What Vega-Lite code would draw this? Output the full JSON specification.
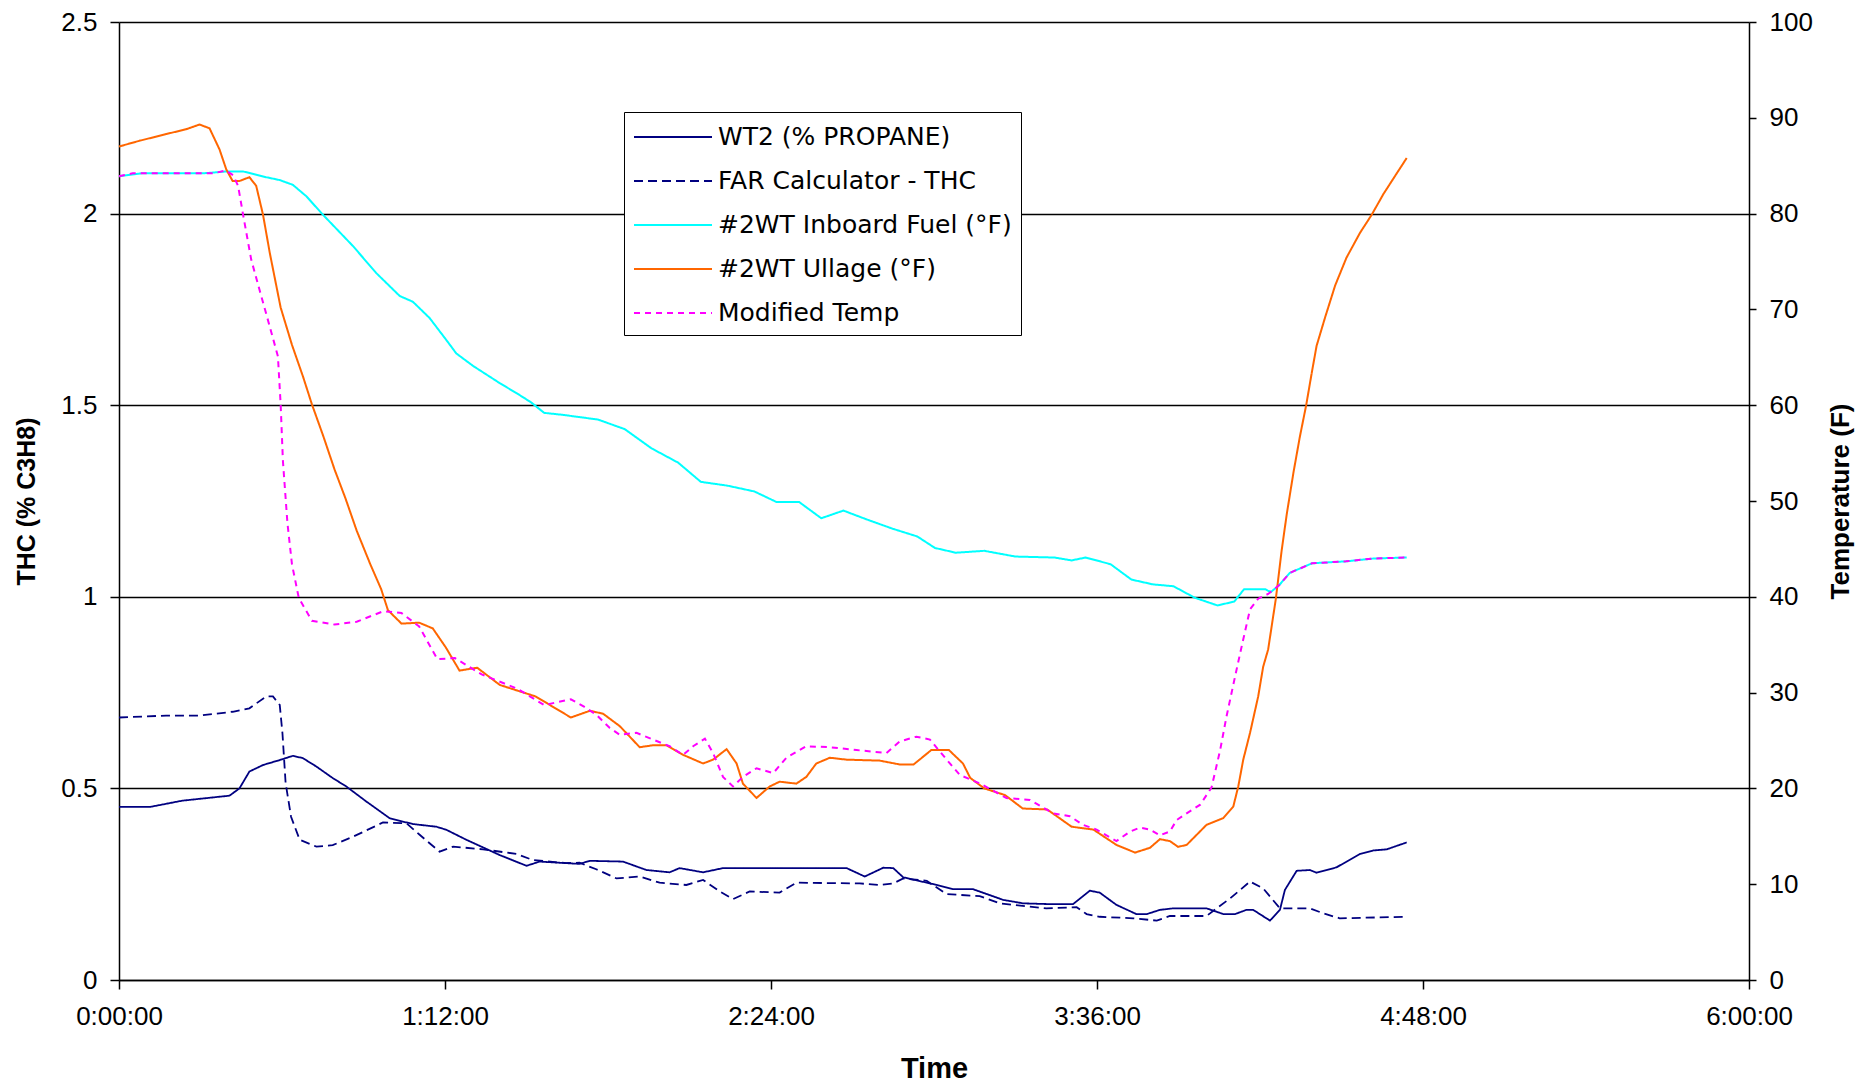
{
"$schema": "https://vega.github.io/schema/vega-lite/v6.json",
"width": 1630, "height": 958,
"autosize": {"type": "none"},
"padding": {"left": 119, "top": 22, "right": 115, "bottom": 103},
"background": "white",
"config": {"view": {"stroke": null}, "font": "Liberation Sans"},
"datasets": {
"thc": [
{"t":0,"s":"WT2 (% PROPANE)","v":0.452},{"t":7,"s":"WT2 (% PROPANE)","v":0.452},{"t":14,"s":"WT2 (% PROPANE)","v":0.468},{"t":24.4,"s":"WT2 (% PROPANE)","v":0.481},{"t":26.6,"s":"WT2 (% PROPANE)","v":0.5},{"t":28.8,"s":"WT2 (% PROPANE)","v":0.544},{"t":31.8,"s":"WT2 (% PROPANE)","v":0.561},{"t":35.5,"s":"WT2 (% PROPANE)","v":0.574},{"t":38.4,"s":"WT2 (% PROPANE)","v":0.585},{"t":40.6,"s":"WT2 (% PROPANE)","v":0.579},{"t":43.6,"s":"WT2 (% PROPANE)","v":0.557},{"t":47.2,"s":"WT2 (% PROPANE)","v":0.527},{"t":50.2,"s":"WT2 (% PROPANE)","v":0.505},{"t":54.6,"s":"WT2 (% PROPANE)","v":0.466},{"t":59.8,"s":"WT2 (% PROPANE)","v":0.422},{"t":64.9,"s":"WT2 (% PROPANE)","v":0.407},{"t":70.1,"s":"WT2 (% PROPANE)","v":0.4},{"t":72.3,"s":"WT2 (% PROPANE)","v":0.392},{"t":76.7,"s":"WT2 (% PROPANE)","v":0.366},{"t":84.1,"s":"WT2 (% PROPANE)","v":0.326},{"t":90,"s":"WT2 (% PROPANE)","v":0.298},{"t":92.9,"s":"WT2 (% PROPANE)","v":0.309},{"t":101.7,"s":"WT2 (% PROPANE)","v":0.303},{"t":104,"s":"WT2 (% PROPANE)","v":0.311},{"t":111.3,"s":"WT2 (% PROPANE)","v":0.309},{"t":116.5,"s":"WT2 (% PROPANE)","v":0.287},{"t":121.6,"s":"WT2 (% PROPANE)","v":0.281},{"t":123.8,"s":"WT2 (% PROPANE)","v":0.292},{"t":129,"s":"WT2 (% PROPANE)","v":0.281},{"t":133.4,"s":"WT2 (% PROPANE)","v":0.292},{"t":160.7,"s":"WT2 (% PROPANE)","v":0.292},{"t":164.7,"s":"WT2 (% PROPANE)","v":0.27},{"t":168.8,"s":"WT2 (% PROPANE)","v":0.293},{"t":171,"s":"WT2 (% PROPANE)","v":0.292},{"t":173.2,"s":"WT2 (% PROPANE)","v":0.268},{"t":180.6,"s":"WT2 (% PROPANE)","v":0.248},{"t":184.2,"s":"WT2 (% PROPANE)","v":0.237},{"t":188.6,"s":"WT2 (% PROPANE)","v":0.237},{"t":195.3,"s":"WT2 (% PROPANE)","v":0.209},{"t":199.7,"s":"WT2 (% PROPANE)","v":0.2},{"t":205.6,"s":"WT2 (% PROPANE)","v":0.198},{"t":210.7,"s":"WT2 (% PROPANE)","v":0.198},{"t":214.4,"s":"WT2 (% PROPANE)","v":0.233},{"t":216.6,"s":"WT2 (% PROPANE)","v":0.228},{"t":220.3,"s":"WT2 (% PROPANE)","v":0.196},{"t":224.7,"s":"WT2 (% PROPANE)","v":0.172},{"t":227,"s":"WT2 (% PROPANE)","v":0.172},{"t":229.9,"s":"WT2 (% PROPANE)","v":0.183},{"t":232.8,"s":"WT2 (% PROPANE)","v":0.187},{"t":240.2,"s":"WT2 (% PROPANE)","v":0.187},{"t":243.9,"s":"WT2 (% PROPANE)","v":0.172},{"t":246.5,"s":"WT2 (% PROPANE)","v":0.172},{"t":249,"s":"WT2 (% PROPANE)","v":0.183},{"t":250.5,"s":"WT2 (% PROPANE)","v":0.183},{"t":254.2,"s":"WT2 (% PROPANE)","v":0.155},{"t":256.4,"s":"WT2 (% PROPANE)","v":0.183},{"t":257.5,"s":"WT2 (% PROPANE)","v":0.235},{"t":260.1,"s":"WT2 (% PROPANE)","v":0.285},{"t":263,"s":"WT2 (% PROPANE)","v":0.287},{"t":264.5,"s":"WT2 (% PROPANE)","v":0.28},{"t":268.9,"s":"WT2 (% PROPANE)","v":0.294},{"t":274.1,"s":"WT2 (% PROPANE)","v":0.329},{"t":277,"s":"WT2 (% PROPANE)","v":0.338},{"t":280,"s":"WT2 (% PROPANE)","v":0.341},{"t":284.4,"s":"WT2 (% PROPANE)","v":0.359},
{"t":0,"s":"FAR Calculator - THC","v":0.685},{"t":10.4,"s":"FAR Calculator - THC","v":0.69},{"t":17.8,"s":"FAR Calculator - THC","v":0.69},{"t":25.1,"s":"FAR Calculator - THC","v":0.7},{"t":28.8,"s":"FAR Calculator - THC","v":0.709},{"t":32.5,"s":"FAR Calculator - THC","v":0.74},{"t":34,"s":"FAR Calculator - THC","v":0.74},{"t":35.5,"s":"FAR Calculator - THC","v":0.718},{"t":36.1,"s":"FAR Calculator - THC","v":0.644},{"t":36.8,"s":"FAR Calculator - THC","v":0.514},{"t":38,"s":"FAR Calculator - THC","v":0.426},{"t":39.9,"s":"FAR Calculator - THC","v":0.366},{"t":43.6,"s":"FAR Calculator - THC","v":0.348},{"t":47.2,"s":"FAR Calculator - THC","v":0.352},{"t":51.7,"s":"FAR Calculator - THC","v":0.374},{"t":58.3,"s":"FAR Calculator - THC","v":0.411},{"t":63.5,"s":"FAR Calculator - THC","v":0.409},{"t":66.4,"s":"FAR Calculator - THC","v":0.379},{"t":70.8,"s":"FAR Calculator - THC","v":0.335},{"t":73.8,"s":"FAR Calculator - THC","v":0.348},{"t":80.4,"s":"FAR Calculator - THC","v":0.341},{"t":87.8,"s":"FAR Calculator - THC","v":0.329},{"t":91.4,"s":"FAR Calculator - THC","v":0.313},{"t":98.8,"s":"FAR Calculator - THC","v":0.305},{"t":101.7,"s":"FAR Calculator - THC","v":0.306},{"t":105.4,"s":"FAR Calculator - THC","v":0.289},{"t":109.9,"s":"FAR Calculator - THC","v":0.265},{"t":115,"s":"FAR Calculator - THC","v":0.27},{"t":119.4,"s":"FAR Calculator - THC","v":0.254},{"t":125.3,"s":"FAR Calculator - THC","v":0.248},{"t":129,"s":"FAR Calculator - THC","v":0.261},{"t":132.7,"s":"FAR Calculator - THC","v":0.231},{"t":135.6,"s":"FAR Calculator - THC","v":0.211},{"t":139.3,"s":"FAR Calculator - THC","v":0.231},{"t":145.9,"s":"FAR Calculator - THC","v":0.228},{"t":149.6,"s":"FAR Calculator - THC","v":0.254},{"t":163.6,"s":"FAR Calculator - THC","v":0.252},{"t":168,"s":"FAR Calculator - THC","v":0.248},{"t":171,"s":"FAR Calculator - THC","v":0.252},{"t":173.2,"s":"FAR Calculator - THC","v":0.265},{"t":178.4,"s":"FAR Calculator - THC","v":0.259},{"t":182.8,"s":"FAR Calculator - THC","v":0.224},{"t":190.1,"s":"FAR Calculator - THC","v":0.219},{"t":194.5,"s":"FAR Calculator - THC","v":0.2},{"t":204.8,"s":"FAR Calculator - THC","v":0.187},{"t":211.5,"s":"FAR Calculator - THC","v":0.19},{"t":213.7,"s":"FAR Calculator - THC","v":0.172},{"t":216.6,"s":"FAR Calculator - THC","v":0.165},{"t":224,"s":"FAR Calculator - THC","v":0.161},{"t":229.2,"s":"FAR Calculator - THC","v":0.155},{"t":232.1,"s":"FAR Calculator - THC","v":0.167},{"t":240.2,"s":"FAR Calculator - THC","v":0.167},{"t":242.4,"s":"FAR Calculator - THC","v":0.187},{"t":245.4,"s":"FAR Calculator - THC","v":0.213},{"t":249.8,"s":"FAR Calculator - THC","v":0.257},{"t":252.7,"s":"FAR Calculator - THC","v":0.239},{"t":256.4,"s":"FAR Calculator - THC","v":0.187},{"t":263,"s":"FAR Calculator - THC","v":0.187},{"t":266,"s":"FAR Calculator - THC","v":0.174},{"t":269.6,"s":"FAR Calculator - THC","v":0.161},{"t":284.4,"s":"FAR Calculator - THC","v":0.165}
],
"temp": [
{"t":0,"s":"#2WT Inboard Fuel (°F)","v":83.9},{"t":5,"s":"#2WT Inboard Fuel (°F)","v":84.2},{"t":18.5,"s":"#2WT Inboard Fuel (°F)","v":84.2},{"t":23.7,"s":"#2WT Inboard Fuel (°F)","v":84.4},{"t":27.4,"s":"#2WT Inboard Fuel (°F)","v":84.4},{"t":32.5,"s":"#2WT Inboard Fuel (°F)","v":83.8},{"t":35.5,"s":"#2WT Inboard Fuel (°F)","v":83.5},{"t":38.4,"s":"#2WT Inboard Fuel (°F)","v":83},{"t":41.4,"s":"#2WT Inboard Fuel (°F)","v":81.8},{"t":45,"s":"#2WT Inboard Fuel (°F)","v":79.9},{"t":51.7,"s":"#2WT Inboard Fuel (°F)","v":76.6},{"t":56.8,"s":"#2WT Inboard Fuel (°F)","v":73.8},{"t":62,"s":"#2WT Inboard Fuel (°F)","v":71.4},{"t":64.9,"s":"#2WT Inboard Fuel (°F)","v":70.8},{"t":68.6,"s":"#2WT Inboard Fuel (°F)","v":69.1},{"t":72.3,"s":"#2WT Inboard Fuel (°F)","v":66.8},{"t":74.5,"s":"#2WT Inboard Fuel (°F)","v":65.4},{"t":78.2,"s":"#2WT Inboard Fuel (°F)","v":64.1},{"t":84.1,"s":"#2WT Inboard Fuel (°F)","v":62.3},{"t":88,"s":"#2WT Inboard Fuel (°F)","v":61.2},{"t":91,"s":"#2WT Inboard Fuel (°F)","v":60.3},{"t":93.9,"s":"#2WT Inboard Fuel (°F)","v":59.2},{"t":97.9,"s":"#2WT Inboard Fuel (°F)","v":59},{"t":105.8,"s":"#2WT Inboard Fuel (°F)","v":58.5},{"t":111.7,"s":"#2WT Inboard Fuel (°F)","v":57.5},{"t":117.6,"s":"#2WT Inboard Fuel (°F)","v":55.5},{"t":123.5,"s":"#2WT Inboard Fuel (°F)","v":54},{"t":128.5,"s":"#2WT Inboard Fuel (°F)","v":52},{"t":134.4,"s":"#2WT Inboard Fuel (°F)","v":51.6},{"t":140.3,"s":"#2WT Inboard Fuel (°F)","v":51},{"t":145.2,"s":"#2WT Inboard Fuel (°F)","v":49.9},{"t":150.2,"s":"#2WT Inboard Fuel (°F)","v":49.9},{"t":155.1,"s":"#2WT Inboard Fuel (°F)","v":48.2},{"t":160,"s":"#2WT Inboard Fuel (°F)","v":49},{"t":165,"s":"#2WT Inboard Fuel (°F)","v":48.1},{"t":170.9,"s":"#2WT Inboard Fuel (°F)","v":47.1},{"t":176.3,"s":"#2WT Inboard Fuel (°F)","v":46.3},{"t":180.2,"s":"#2WT Inboard Fuel (°F)","v":45.1},{"t":184.8,"s":"#2WT Inboard Fuel (°F)","v":44.6},{"t":191.1,"s":"#2WT Inboard Fuel (°F)","v":44.8},{"t":198,"s":"#2WT Inboard Fuel (°F)","v":44.2},{"t":206.6,"s":"#2WT Inboard Fuel (°F)","v":44.1},{"t":210.4,"s":"#2WT Inboard Fuel (°F)","v":43.8},{"t":213.5,"s":"#2WT Inboard Fuel (°F)","v":44.1},{"t":219,"s":"#2WT Inboard Fuel (°F)","v":43.4},{"t":223.6,"s":"#2WT Inboard Fuel (°F)","v":41.8},{"t":228.3,"s":"#2WT Inboard Fuel (°F)","v":41.3},{"t":232.9,"s":"#2WT Inboard Fuel (°F)","v":41.1},{"t":237.6,"s":"#2WT Inboard Fuel (°F)","v":39.9},{"t":242.6,"s":"#2WT Inboard Fuel (°F)","v":39.1},{"t":246.3,"s":"#2WT Inboard Fuel (°F)","v":39.5},{"t":248.5,"s":"#2WT Inboard Fuel (°F)","v":40.8},{"t":253.1,"s":"#2WT Inboard Fuel (°F)","v":40.8},{"t":254.4,"s":"#2WT Inboard Fuel (°F)","v":40.5},{"t":256.2,"s":"#2WT Inboard Fuel (°F)","v":41.2},{"t":258.6,"s":"#2WT Inboard Fuel (°F)","v":42.5},{"t":263.5,"s":"#2WT Inboard Fuel (°F)","v":43.5},{"t":271,"s":"#2WT Inboard Fuel (°F)","v":43.7},{"t":277.1,"s":"#2WT Inboard Fuel (°F)","v":44},{"t":284.4,"s":"#2WT Inboard Fuel (°F)","v":44.1},
{"t":0,"s":"#2WT Ullage (°F)","v":87},{"t":4.5,"s":"#2WT Ullage (°F)","v":87.6},{"t":10.4,"s":"#2WT Ullage (°F)","v":88.3},{"t":14.8,"s":"#2WT Ullage (°F)","v":88.8},{"t":17.8,"s":"#2WT Ullage (°F)","v":89.3},{"t":20,"s":"#2WT Ullage (°F)","v":88.9},{"t":22.2,"s":"#2WT Ullage (°F)","v":86.7},{"t":23.7,"s":"#2WT Ullage (°F)","v":84.6},{"t":25.1,"s":"#2WT Ullage (°F)","v":83.4},{"t":26.6,"s":"#2WT Ullage (°F)","v":83.4},{"t":28.8,"s":"#2WT Ullage (°F)","v":83.8},{"t":30.3,"s":"#2WT Ullage (°F)","v":82.9},{"t":31.8,"s":"#2WT Ullage (°F)","v":79.9},{"t":33.3,"s":"#2WT Ullage (°F)","v":75.9},{"t":35.7,"s":"#2WT Ullage (°F)","v":70.2},{"t":38.2,"s":"#2WT Ullage (°F)","v":66.3},{"t":40.7,"s":"#2WT Ullage (°F)","v":62.9},{"t":42.6,"s":"#2WT Ullage (°F)","v":60.1},{"t":45.1,"s":"#2WT Ullage (°F)","v":56.8},{"t":47.6,"s":"#2WT Ullage (°F)","v":53.3},{"t":50,"s":"#2WT Ullage (°F)","v":50.3},{"t":52.5,"s":"#2WT Ullage (°F)","v":46.9},{"t":55.5,"s":"#2WT Ullage (°F)","v":43.4},{"t":57.9,"s":"#2WT Ullage (°F)","v":40.8},{"t":59.4,"s":"#2WT Ullage (°F)","v":38.6},{"t":62.4,"s":"#2WT Ullage (°F)","v":37.2},{"t":66.3,"s":"#2WT Ullage (°F)","v":37.3},{"t":69.3,"s":"#2WT Ullage (°F)","v":36.7},{"t":72.2,"s":"#2WT Ullage (°F)","v":34.7},{"t":75.2,"s":"#2WT Ullage (°F)","v":32.3},{"t":79.1,"s":"#2WT Ullage (°F)","v":32.6},{"t":84.1,"s":"#2WT Ullage (°F)","v":30.8},{"t":92,"s":"#2WT Ullage (°F)","v":29.6},{"t":99.8,"s":"#2WT Ullage (°F)","v":27.4},{"t":104,"s":"#2WT Ullage (°F)","v":28.1},{"t":106.9,"s":"#2WT Ullage (°F)","v":27.8},{"t":110.6,"s":"#2WT Ullage (°F)","v":26.5},{"t":115,"s":"#2WT Ullage (°F)","v":24.3},{"t":117.9,"s":"#2WT Ullage (°F)","v":24.5},{"t":120.9,"s":"#2WT Ullage (°F)","v":24.5},{"t":124.6,"s":"#2WT Ullage (°F)","v":23.5},{"t":129,"s":"#2WT Ullage (°F)","v":22.6},{"t":131.2,"s":"#2WT Ullage (°F)","v":23},{"t":134.2,"s":"#2WT Ullage (°F)","v":24.1},{"t":136.4,"s":"#2WT Ullage (°F)","v":22.6},{"t":137.8,"s":"#2WT Ullage (°F)","v":20.5},{"t":140.8,"s":"#2WT Ullage (°F)","v":19},{"t":143.7,"s":"#2WT Ullage (°F)","v":20.2},{"t":145.9,"s":"#2WT Ullage (°F)","v":20.7},{"t":149.6,"s":"#2WT Ullage (°F)","v":20.5},{"t":151.8,"s":"#2WT Ullage (°F)","v":21.2},{"t":154,"s":"#2WT Ullage (°F)","v":22.6},{"t":157,"s":"#2WT Ullage (°F)","v":23.2},{"t":160.7,"s":"#2WT Ullage (°F)","v":23},{"t":168,"s":"#2WT Ullage (°F)","v":22.9},{"t":172.4,"s":"#2WT Ullage (°F)","v":22.5},{"t":175.5,"s":"#2WT Ullage (°F)","v":22.5},{"t":179.4,"s":"#2WT Ullage (°F)","v":24},{"t":183.3,"s":"#2WT Ullage (°F)","v":24},{"t":186.4,"s":"#2WT Ullage (°F)","v":22.6},{"t":188,"s":"#2WT Ullage (°F)","v":21.1},{"t":191.1,"s":"#2WT Ullage (°F)","v":20},{"t":195.7,"s":"#2WT Ullage (°F)","v":19.3},{"t":199.6,"s":"#2WT Ullage (°F)","v":17.9},{"t":205,"s":"#2WT Ullage (°F)","v":17.8},{"t":210.4,"s":"#2WT Ullage (°F)","v":16},{"t":215.2,"s":"#2WT Ullage (°F)","v":15.7},{"t":220.3,"s":"#2WT Ullage (°F)","v":14.1},{"t":224.4,"s":"#2WT Ullage (°F)","v":13.3},{"t":227.7,"s":"#2WT Ullage (°F)","v":13.8},{"t":229.9,"s":"#2WT Ullage (°F)","v":14.7},{"t":232.1,"s":"#2WT Ullage (°F)","v":14.5},{"t":233.9,"s":"#2WT Ullage (°F)","v":13.9},{"t":235.8,"s":"#2WT Ullage (°F)","v":14.1},{"t":240.2,"s":"#2WT Ullage (°F)","v":16.2},{"t":243.9,"s":"#2WT Ullage (°F)","v":16.9},{"t":246.1,"s":"#2WT Ullage (°F)","v":18.1},{"t":247.2,"s":"#2WT Ullage (°F)","v":20.2},{"t":248.3,"s":"#2WT Ullage (°F)","v":23},{"t":249.8,"s":"#2WT Ullage (°F)","v":25.8},{"t":251.6,"s":"#2WT Ullage (°F)","v":29.6},{"t":252.7,"s":"#2WT Ullage (°F)","v":32.7},{"t":253.8,"s":"#2WT Ullage (°F)","v":34.5},{"t":255.5,"s":"#2WT Ullage (°F)","v":39.8},{"t":256.8,"s":"#2WT Ullage (°F)","v":44.9},{"t":257.9,"s":"#2WT Ullage (°F)","v":48.6},{"t":259.4,"s":"#2WT Ullage (°F)","v":53},{"t":260.8,"s":"#2WT Ullage (°F)","v":56.7},{"t":262.2,"s":"#2WT Ullage (°F)","v":60},{"t":263.4,"s":"#2WT Ullage (°F)","v":63.3},{"t":264.5,"s":"#2WT Ullage (°F)","v":66.2},{"t":266.4,"s":"#2WT Ullage (°F)","v":69.2},{"t":268.6,"s":"#2WT Ullage (°F)","v":72.5},{"t":271.1,"s":"#2WT Ullage (°F)","v":75.4},{"t":274.1,"s":"#2WT Ullage (°F)","v":78},{"t":276.7,"s":"#2WT Ullage (°F)","v":79.9},{"t":279.2,"s":"#2WT Ullage (°F)","v":82},{"t":282.2,"s":"#2WT Ullage (°F)","v":84.2},{"t":284.4,"s":"#2WT Ullage (°F)","v":85.8},
{"t":0,"s":"Modified Temp","v":83.9},{"t":3,"s":"Modified Temp","v":84.2},{"t":20.8,"s":"Modified Temp","v":84.2},{"t":23.6,"s":"Modified Temp","v":84.5},{"t":25.2,"s":"Modified Temp","v":84},{"t":26.3,"s":"Modified Temp","v":82.9},{"t":27.4,"s":"Modified Temp","v":79.9},{"t":29.2,"s":"Modified Temp","v":75.2},{"t":31,"s":"Modified Temp","v":72.1},{"t":33.3,"s":"Modified Temp","v":68.2},{"t":35.1,"s":"Modified Temp","v":65.1},{"t":35.7,"s":"Modified Temp","v":60.1},{"t":36.2,"s":"Modified Temp","v":54.2},{"t":37.2,"s":"Modified Temp","v":47.7},{"t":38.2,"s":"Modified Temp","v":43.4},{"t":39.7,"s":"Modified Temp","v":39.9},{"t":42.6,"s":"Modified Temp","v":37.5},{"t":47.6,"s":"Modified Temp","v":37.1},{"t":52.5,"s":"Modified Temp","v":37.4},{"t":58.4,"s":"Modified Temp","v":38.5},{"t":62.4,"s":"Modified Temp","v":38.3},{"t":66.3,"s":"Modified Temp","v":36.9},{"t":70.3,"s":"Modified Temp","v":33.5},{"t":74.2,"s":"Modified Temp","v":33.6},{"t":80.1,"s":"Modified Temp","v":31.9},{"t":88,"s":"Modified Temp","v":30.4},{"t":93.9,"s":"Modified Temp","v":28.7},{"t":99.8,"s":"Modified Temp","v":29.3},{"t":102.8,"s":"Modified Temp","v":28.5},{"t":105.4,"s":"Modified Temp","v":27.7},{"t":108.4,"s":"Modified Temp","v":26.3},{"t":110.6,"s":"Modified Temp","v":25.6},{"t":114.3,"s":"Modified Temp","v":25.8},{"t":117.9,"s":"Modified Temp","v":25.1},{"t":121.6,"s":"Modified Temp","v":24.4},{"t":124.6,"s":"Modified Temp","v":23.5},{"t":126.8,"s":"Modified Temp","v":24.4},{"t":129.4,"s":"Modified Temp","v":25.2},{"t":131.2,"s":"Modified Temp","v":23.7},{"t":133.4,"s":"Modified Temp","v":21.2},{"t":135.6,"s":"Modified Temp","v":20.2},{"t":137.8,"s":"Modified Temp","v":21.2},{"t":140.8,"s":"Modified Temp","v":22.1},{"t":144.5,"s":"Modified Temp","v":21.6},{"t":147.4,"s":"Modified Temp","v":23.2},{"t":151.8,"s":"Modified Temp","v":24.4},{"t":157,"s":"Modified Temp","v":24.3},{"t":162.9,"s":"Modified Temp","v":24},{"t":169.5,"s":"Modified Temp","v":23.7},{"t":172.4,"s":"Modified Temp","v":24.9},{"t":176.1,"s":"Modified Temp","v":25.4},{"t":179.1,"s":"Modified Temp","v":25.1},{"t":182.8,"s":"Modified Temp","v":23},{"t":185.7,"s":"Modified Temp","v":21.4},{"t":190.2,"s":"Modified Temp","v":20.5},{"t":196,"s":"Modified Temp","v":19},{"t":201.2,"s":"Modified Temp","v":18.8},{"t":206.3,"s":"Modified Temp","v":17.4},{"t":210,"s":"Modified Temp","v":17.1},{"t":212.9,"s":"Modified Temp","v":16.2},{"t":215.9,"s":"Modified Temp","v":15.7},{"t":220.3,"s":"Modified Temp","v":14.5},{"t":223.3,"s":"Modified Temp","v":15.5},{"t":225.5,"s":"Modified Temp","v":15.9},{"t":227.7,"s":"Modified Temp","v":15.7},{"t":229.9,"s":"Modified Temp","v":15.1},{"t":232.1,"s":"Modified Temp","v":15.5},{"t":233.6,"s":"Modified Temp","v":16.7},{"t":235.8,"s":"Modified Temp","v":17.4},{"t":238.8,"s":"Modified Temp","v":18.3},{"t":241.3,"s":"Modified Temp","v":20.1},{"t":243.2,"s":"Modified Temp","v":24},{"t":244.6,"s":"Modified Temp","v":27.5},{"t":246.5,"s":"Modified Temp","v":31.7},{"t":247.8,"s":"Modified Temp","v":34.5},{"t":249.8,"s":"Modified Temp","v":38.7},{"t":251.6,"s":"Modified Temp","v":39.8},{"t":253.8,"s":"Modified Temp","v":40.3},{"t":256.2,"s":"Modified Temp","v":41.2},{"t":258.6,"s":"Modified Temp","v":42.5},{"t":263.5,"s":"Modified Temp","v":43.5},{"t":271,"s":"Modified Temp","v":43.7},{"t":277.1,"s":"Modified Temp","v":44},{"t":284.4,"s":"Modified Temp","v":44.1}
]
},
"layer": [
{
"data": {"name": "thc"},
"mark": {"type": "line", "strokeWidth": 1.8},
"encoding": {
"x": {"field": "t", "type": "quantitative", "scale": {"domain": [0, 360], "nice": false},
 "axis": {"orient": "bottom", "values": [0, 72, 144, 216, 288, 360], "grid": false,
  "labelExpr": "floor(datum.value/60) + ':' + (datum.value % 60 < 10 ? '0' : '') + (datum.value % 60) + ':00'",
  "domainColor": "black", "domainWidth": 1.5, "tickColor": "black", "tickWidth": 1.5, "tickSize": 9,
  "labelFontSize": 26, "labelColor": "black", "labelFont": "Liberation Sans", "labelPadding": 14, "labelFlush": false, "labelOverlap": false,
  "title": "Time", "titleFontSize": 29, "titleFontWeight": "bold", "titleColor": "black", "titleFont": "Liberation Sans", "titleY": 88, "titleBaseline": "middle"}},
"y": {"field": "v", "type": "quantitative", "scale": {"domain": [0, 2.5], "nice": false},
 "axis": {"orient": "left", "values": [0, 0.5, 1, 1.5, 2, 2.5], "format": "~g", "grid": true, "gridColor": "black", "gridWidth": 1.5, "gridOpacity": 1,
  "domainColor": "black", "domainWidth": 1.5, "tickColor": "black", "tickWidth": 1.5, "tickSize": 9,
  "labelFontSize": 26, "labelColor": "black", "labelFont": "Liberation Sans", "labelPadding": 13, "labelFlush": false, "labelOverlap": false,
  "title": "THC (% C3H8)", "titleFontSize": 25, "titleFontWeight": "bold", "titleColor": "black", "titleFont": "Liberation Sans",
  "titleX": -93, "titleY": 479, "titleAngle": 270, "titleAlign": "center", "titleBaseline": "middle"}},
"color": {"field": "s", "type": "nominal",
 "scale": {"domain": ["WT2 (% PROPANE)", "FAR Calculator - THC", "#2WT Inboard Fuel (°F)", "#2WT Ullage (°F)", "Modified Temp"], "range": ["#000080", "#000080", "#00FFFF", "#FF6600", "#FF00FF"]},
 "legend": {"title": null, "orient": "none", "legendX": 505, "legendY": 90, "strokeColor": "black", "fillColor": "white", "padding": 9,
  "symbolType": "M-1,0H4.2", "symbolSize": 900, "symbolStrokeWidth": 2, "labelFontSize": 25, "labelFont": "DejaVu Sans", "labelColor": "black", "rowPadding": 15, "labelOffset": 53, "labelLimit": 400}},
"strokeDash": {"field": "s", "type": "nominal",
 "scale": {"domain": ["WT2 (% PROPANE)", "FAR Calculator - THC", "#2WT Inboard Fuel (°F)", "#2WT Ullage (°F)", "Modified Temp"], "range": [[1, 0], [9, 5], [1, 0], [1, 0], [6, 5]]},
 "legend": {"title": null, "orient": "none", "legendX": 505, "legendY": 90, "strokeColor": "black", "fillColor": "white", "padding": 9,
  "symbolType": "M-1,0H4.2", "symbolSize": 900, "symbolStrokeWidth": 2, "labelFontSize": 25, "labelFont": "DejaVu Sans", "labelColor": "black", "rowPadding": 15, "labelOffset": 53, "labelLimit": 400}}
}
},
{
"data": {"name": "temp"},
"mark": {"type": "line", "strokeWidth": 2},
"encoding": {
"x": {"field": "t", "type": "quantitative", "scale": {"domain": [0, 360], "nice": false}},
"y": {"field": "v", "type": "quantitative", "scale": {"domain": [0, 100], "nice": false},
 "axis": {"orient": "right", "values": [0, 10, 20, 30, 40, 50, 60, 70, 80, 90, 100], "format": "d", "grid": false,
  "domainColor": "black", "domainWidth": 1.5, "tickColor": "black", "tickWidth": 1.5, "tickSize": 7,
  "labelFontSize": 26, "labelColor": "black", "labelFont": "Liberation Sans", "labelPadding": 13, "labelFlush": false, "labelOverlap": false,
  "title": "Temperature (F)", "titleFontSize": 26, "titleFontWeight": "bold", "titleColor": "black", "titleFont": "Liberation Sans",
  "titleX": 91, "titleY": 479, "titleAngle": 270, "titleAlign": "center", "titleBaseline": "middle"}},
"color": {"field": "s", "type": "nominal",
 "scale": {"domain": ["WT2 (% PROPANE)", "FAR Calculator - THC", "#2WT Inboard Fuel (°F)", "#2WT Ullage (°F)", "Modified Temp"], "range": ["#000080", "#000080", "#00FFFF", "#FF6600", "#FF00FF"]},
 "legend": {"title": null, "orient": "none", "legendX": 505, "legendY": 90, "strokeColor": "black", "fillColor": "white", "padding": 9,
  "symbolType": "M-1,0H4.2", "symbolSize": 900, "symbolStrokeWidth": 2, "labelFontSize": 25, "labelFont": "DejaVu Sans", "labelColor": "black", "rowPadding": 15, "labelOffset": 53, "labelLimit": 400}},
"strokeDash": {"field": "s", "type": "nominal",
 "scale": {"domain": ["WT2 (% PROPANE)", "FAR Calculator - THC", "#2WT Inboard Fuel (°F)", "#2WT Ullage (°F)", "Modified Temp"], "range": [[1, 0], [9, 5], [1, 0], [1, 0], [6, 5]]},
 "legend": {"title": null, "orient": "none", "legendX": 505, "legendY": 90, "strokeColor": "black", "fillColor": "white", "padding": 9,
  "symbolType": "M-1,0H4.2", "symbolSize": 900, "symbolStrokeWidth": 2, "labelFontSize": 25, "labelFont": "DejaVu Sans", "labelColor": "black", "rowPadding": 15, "labelOffset": 53, "labelLimit": 400}}
}
}
],
"resolve": {"scale": {"y": "independent"}}
}
